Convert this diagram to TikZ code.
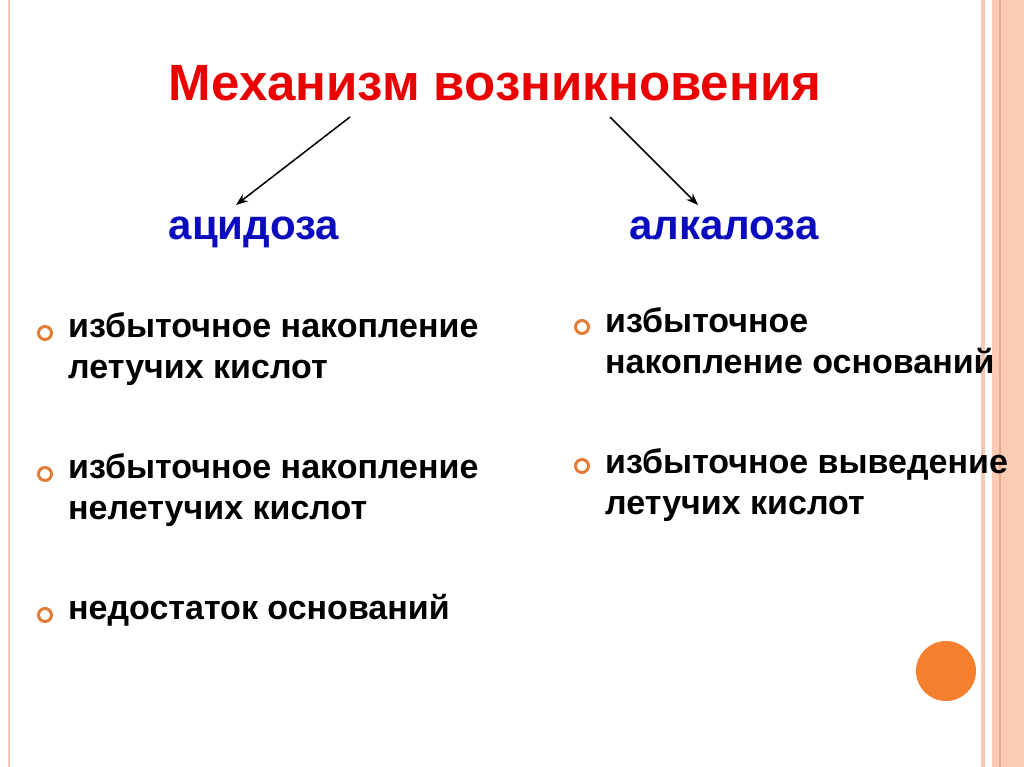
\documentclass[tikz,border=0pt]{standalone}
\usepackage{fontspec}
\setmainfont{Liberation Sans}
\usetikzlibrary{arrows.meta}
\definecolor{ln}{RGB}{245,200,180}
\definecolor{band}{RGB}{252,205,180}
\definecolor{bandd}{RGB}{230,170,140}
\definecolor{bulc}{RGB}{225,125,55}
\definecolor{hblue}{RGB}{10,10,190}
\definecolor{tred}{RGB}{235,0,0}
\definecolor{ball}{RGB}{246,128,45}
\begin{document}
\begin{tikzpicture}[x=1pt,y=-1pt,
  body/.style={anchor=north west,align=left,font=\fontsize{34}{41}\selectfont\bfseries,inner sep=0pt},
  head/.style={anchor=base,font=\fontsize{42}{44}\selectfont\bfseries,text=hblue,inner sep=0pt},
  bul/.style={circle,draw=bulc,line width=3pt,minimum size=13pt,inner sep=0pt},
  arr/.style={-{Stealth[length=12pt,width=9pt]},line width=1.5pt}]
\useasboundingbox (0,0) rectangle (1024,767);
\fill[white] (0,0) rectangle (1024,767);
\fill[ln] (8,0) rectangle (10,767);
\fill[ln] (981,0) rectangle (985,767);
\fill[band] (992,0) rectangle (1024,767);
\fill[bandd] (999,0) rectangle (1000.5,767);
\node[anchor=base,font=\fontsize{51}{54}\selectfont\bfseries,text=tred,inner sep=0pt] (t) at (495,101) {Механизм возникновения};
\coordinate (tl) at (350,117); \coordinate (tr) at (610,117);
\node[head] (a) at (254,240) {ацидоза};
\node[head] (k) at (724,240) {алкалоза};
\coordinate (al) at (236,205); \coordinate (ar) at (698,205);
\draw[arr] (tl) -- (al);
\draw[arr] (tr) -- (ar);
\node[body] (l1) at (68,312) {избыточное накопление\\летучих кислот};
\node[body] (l2) at (68,453) {избыточное накопление\\нелетучих кислот};
\node[body] (l3) at (68,594) {недостаток оснований};
\node[body] (r1) at (605,307) {избыточное\\накопление оснований};
\node[body] (r2) at (605,448) {избыточное выведение\\летучих кислот};
\foreach \y in {333,474,615}{\node[bul] at (45,\y) {};}
\foreach \y in {327,466}{\node[bul] at (582,\y) {};}
\fill[ball] (946,671) circle (30);
\end{tikzpicture}
\end{document}
